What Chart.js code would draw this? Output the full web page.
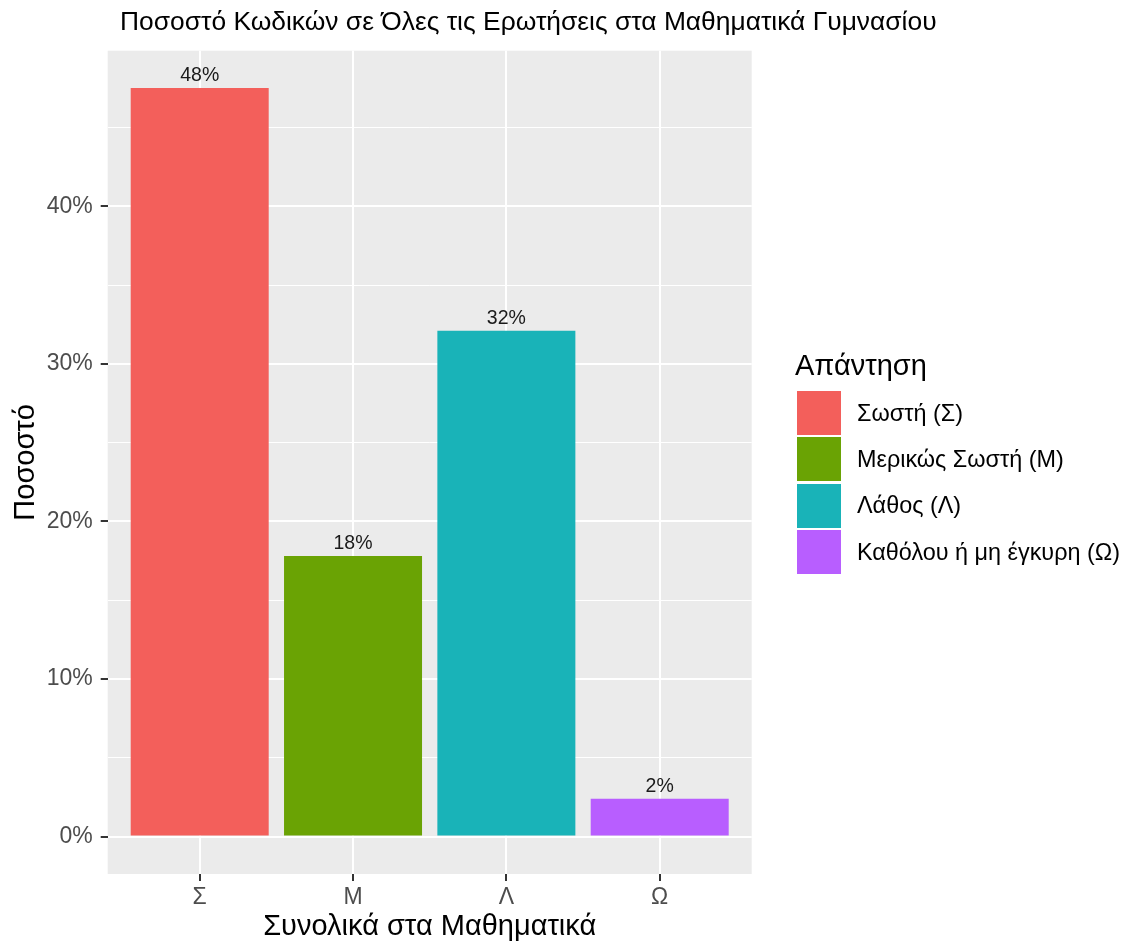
<!DOCTYPE html>
<html>
<head>
<meta charset="utf-8">
<script src="https://cdn.jsdelivr.net/npm/chart.js@4"></script>
<style>
  body { margin: 0; background: #fff; font-family: 'Liberation Sans', Arial, sans-serif; }
  #wrap { position: relative; width: 1127px; height: 944px; }
  #chart { position: absolute; left: 0; top: 0; }
  #title { position: absolute; left: 120px; top: 6px; font-size: 26.4px; color: #000; white-space: nowrap; }
  #legend { position: absolute; left: 795px; top: 349px; }
  #legend .lg-title { font-size: 29px; color: #000; margin-bottom: 8px; }
  .lg-item { display: flex; align-items: center; height: 46.3px; }
  .lg-key { width: 44px; height: 44px; margin-left: 2px; }
  .lg-label { margin-left: 16px; font-size: 23.4px; color: #000; white-space: nowrap; }
</style>
</head>
<body>
<div id="wrap">
  <canvas id="chart" width="1127" height="944"></canvas>
  <div id="title">Ποσοστό Κωδικών σε Όλες τις Ερωτήσεις στα Μαθηματικά Γυμνασίου</div>
  <div id="legend"></div>
</div>
<script>
// ---- data ----
const categories = ['Σ', 'Μ', 'Λ', 'Ω'];
const values = [47.5, 17.8, 32.1, 2.4];          // percent
const legendLabels = ['Σωστή (Σ)', 'Μερικώς Σωστή (Μ)', 'Λάθος (Λ)', 'Καθόλου ή μη έγκυρη (Ω)'];
const colors = ['#f35f5b', '#6aa304', '#19b3b8', '#b85eff'];
const yTicks = [0, 5, 10, 15, 20, 25, 30, 35, 40, 45];

const FONT = "'Liberation Sans', Arial, sans-serif";

// legend (right side)
const legend = document.getElementById('legend');
legend.innerHTML = '<div class="lg-title">Απάντηση</div>' + legendLabels.map((l, i) =>
  `<div class="lg-item"><span class="lg-key" style="background:${colors[i]}"></span><span class="lg-label">${l}</span></div>`
).join('');

// grey panel behind bars
const panelBg = {
  id: 'panelBg',
  beforeDraw(chart) {
    const { ctx, chartArea: a } = chart;
    ctx.save();
    ctx.fillStyle = '#ebebeb';
    ctx.fillRect(a.left, a.top, a.right - a.left, a.bottom - a.top);
    ctx.restore();
  }
};

// value labels above bars
const barLabels = {
  id: 'barLabels',
  afterDatasetsDraw(chart) {
    const { ctx } = chart;
    const meta = chart.getDatasetMeta(0);
    ctx.save();
    ctx.font = `19.5px ${FONT}`;
    ctx.fillStyle = '#1a1a1a';
    ctx.textAlign = 'center';
    ctx.textBaseline = 'alphabetic';
    meta.data.forEach((bar, i) => {
      ctx.fillText(Math.round(values[i]) + '%', bar.x, bar.y - 7);
    });
    ctx.restore();
  }
};

const ctx = document.getElementById('chart').getContext('2d');
new Chart(ctx, {
  type: 'bar',
  data: {
    datasets: [{
      data: categories.map((c, i) => ({ x: i + 1, y: values[i] })),
      backgroundColor: colors,
      borderWidth: 0,
      categoryPercentage: 1,
      barPercentage: 0.9
    }]
  },
  options: {
    responsive: false,
    animation: false,
    layout: { padding: { left: 0, top: 50.7, right: 375.3, bottom: 0 } },
    plugins: { legend: { display: false }, tooltip: { enabled: false } },
    scales: {
      x: {
        type: 'linear', min: 0.4, max: 4.6, offset: false,
        afterBuildTicks: s => { s.ticks = categories.map((c, i) => ({ value: i + 1 })); },
        afterFit: s => { s.height = 70; },
        border: { display: false },
        grid: { offset: false, color: '#ffffff', lineWidth: 2, tickColor: '#333333', tickLength: 7, tickWidth: 2 },
        ticks: { color: '#4d4d4d', font: { family: FONT, size: 23 }, padding: 3, maxRotation: 0,
                 callback: v => categories[v - 1] },
        title: { display: true, text: 'Συνολικά στα Μαθηματικά', color: '#000',
                 font: { family: FONT, size: 29 }, padding: { top: 0, bottom: 0 } }
      },
      y: {
        min: -2.375, max: 49.875,
        afterBuildTicks: s => { s.ticks = yTicks.map(v => ({ value: v })); },
        afterFit: s => { s.width = 107.7; },
        border: { display: false },
        grid: {
          color: '#ffffff',
          lineWidth: c => (c.tick && c.tick.value % 10 === 0 ? 2 : 1),
          tickColor: c => (c.tick && c.tick.value % 10 === 0 ? '#333333' : 'rgba(0,0,0,0)'),
          tickLength: 7, tickWidth: 2
        },
        ticks: { color: '#4d4d4d', font: { family: FONT, size: 23 }, padding: 8,
                 callback: v => (v % 10 === 0 ? v + '%' : '') },
        title: { display: true, text: 'Ποσοστό', color: '#000',
                 font: { family: FONT, size: 29 }, padding: { top: 9, bottom: 0 } }
      }
    }
  },
  plugins: [panelBg, barLabels]
});
</script>
</body>
</html>
